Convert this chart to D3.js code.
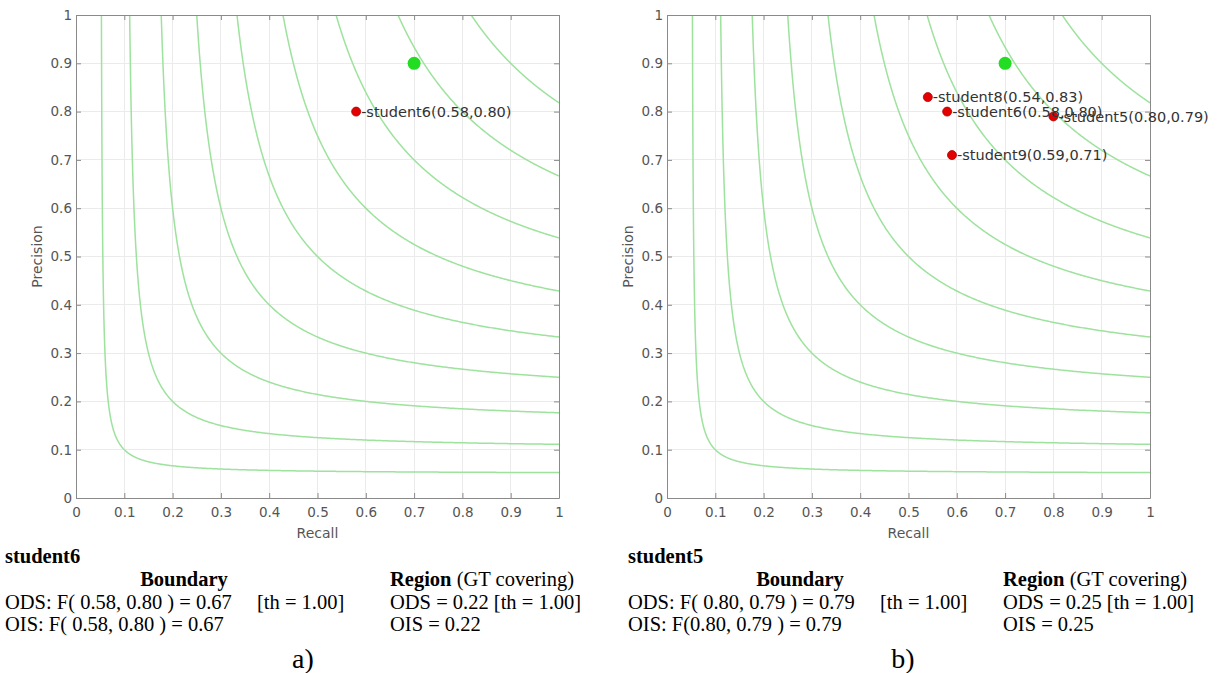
<!DOCTYPE html>
<html>
<head>
<meta charset="utf-8">
<script src="https://cdn.jsdelivr.net/npm/d3@7"></script>
<style>
  body { margin: 0; background: #fff; }
  svg { display: block; }
  .tick-label { font-family: "DejaVu Sans", sans-serif; font-size: 13.5px; fill: #555; }
  .axis-title { font-family: "DejaVu Sans", sans-serif; font-size: 14px; fill: #555; }
  .pt-label { font-family: "DejaVu Sans", sans-serif; font-size: 14.5px; fill: #333; }
  .caption { font-family: "Liberation Serif", "Times New Roman", serif; font-size: 20.5px; fill: #000; }
  .tag { font-family: "Liberation Serif", "Times New Roman", serif; font-size: 28px; fill: #000; }
</style>
</head>
<body>
<div id="chart"></div>
<script>
// iso-F levels drawn as background curves
var fLevels = [0.1, 0.2, 0.3, 0.4, 0.5, 0.6, 0.7, 0.8, 0.9];
var axisTicks = [0, 0.1, 0.2, 0.3, 0.4, 0.5, 0.6, 0.7, 0.8, 0.9, 1];

// green reference point
var targetRecall = 0.70;
var targetPrecision = 0.90;

// panel a)
var namesA = ["student6"];
var recallA = [0.58];
var precisionA = [0.80];

// panel b)
var namesB = ["student8", "student6", "student5", "student9"];
var recallB = [0.54, 0.58, 0.80, 0.59];
var precisionB = [0.83, 0.80, 0.79, 0.71];

// text under each panel
var captionA = {
  name: "student6",
  odsB: "ODS: F( 0.58, 0.80 ) = 0.67", th: "[th = 1.00]",
  oisB: "OIS: F( 0.58, 0.80 ) = 0.67",
  odsR: "ODS = 0.22 [th = 1.00]", oisR: "OIS = 0.22",
  tag: "a)"
};
var captionB = {
  name: "student5",
  odsB: "ODS: F( 0.80, 0.79 ) = 0.79", th: "[th = 1.00]",
  oisB: "OIS: F(0.80, 0.79 ) = 0.79",
  odsR: "ODS = 0.25 [th = 1.00]", oisR: "OIS = 0.25",
  tag: "b)"
};

var W = 1217, H = 673;
var plotSize = 483;
var top0 = 15;

var svg = d3.select("#chart").append("svg")
  .attr("width", W)
  .attr("height", H);

function drawPanel(left, names, recall, precision, cap, txt) {
  var x = d3.scaleLinear().domain([0, 1]).range([left, left + plotSize]);
  var y = d3.scaleLinear().domain([0, 1]).range([top0 + plotSize, top0]);
  var g = svg.append("g");

  var clipId = "clip" + left;
  g.append("clipPath").attr("id", clipId)
    .append("rect")
    .attr("x", x(0)).attr("y", y(1))
    .attr("width", plotSize).attr("height", plotSize);

  // grid
  g.selectAll(".vgrid").data(axisTicks).enter().append("line")
    .attr("x1", function(d) { return x(d); }).attr("x2", function(d) { return x(d); })
    .attr("y1", y(0)).attr("y2", y(1))
    .attr("stroke", "#ebebeb").attr("stroke-width", 1)
    .attr("shape-rendering", "crispEdges");
  g.selectAll(".hgrid").data(axisTicks).enter().append("line")
    .attr("y1", function(d) { return y(d); }).attr("y2", function(d) { return y(d); })
    .attr("x1", x(0)).attr("x2", x(1))
    .attr("stroke", "#ebebeb").attr("stroke-width", 1)
    .attr("shape-rendering", "crispEdges");

  // iso-F curves
  var line = d3.line()
    .x(function(d) { return x(d[0]); })
    .y(function(d) { return y(d[1]); });
  fLevels.forEach(function(f) {
    var r0 = f / (2 - f);
    var pts = d3.range(0, 401).map(function(i) {
      var r = r0 + (1 - r0) * Math.pow(i / 400, 2);
      return [r, f * r / (2 * r - f)];
    });
    g.append("path")
      .attr("d", line(pts))
      .attr("clip-path", "url(#" + clipId + ")")
      .attr("fill", "none")
      .attr("stroke", "#9de29d")
      .attr("stroke-width", 1.5);
  });

  // axes box with inward ticks (matlab style)
  var fmt = function(d) { return d3.format("~g")(d); };
  var axB = d3.axisBottom(x).tickValues(axisTicks).tickSizeInner(-5).tickSizeOuter(0)
    .tickPadding(9).tickFormat(fmt);
  var axL = d3.axisLeft(y).tickValues(axisTicks).tickSizeInner(-5).tickSizeOuter(0)
    .tickPadding(4).tickFormat(fmt);
  var axT = d3.axisTop(x).tickValues(axisTicks).tickSizeInner(-5).tickSizeOuter(0).tickFormat("");
  var axR = d3.axisRight(y).tickValues(axisTicks).tickSizeInner(-5).tickSizeOuter(0).tickFormat("");

  [[axB, "translate(0," + y(0) + ")"], [axL, "translate(" + x(0) + ",0)"],
   [axT, "translate(0," + y(1) + ")"], [axR, "translate(" + x(1) + ",0)"]].forEach(function(a) {
    var ag = g.append("g").attr("transform", a[1]).call(a[0]);
    ag.select(".domain").attr("stroke", "#8a8a8a");
    ag.selectAll(".tick line").attr("stroke", "#8a8a8a");
    ag.selectAll(".tick text").attr("class", "tick-label").attr("fill", null);
  });

  // axis titles
  g.append("text").attr("class", "axis-title")
    .attr("x", x(0.5)).attr("y", y(0) + 40)
    .attr("text-anchor", "middle").text("Recall");
  g.append("text").attr("class", "axis-title")
    .attr("transform", "translate(" + (x(0) - 34) + "," + y(0.5) + ") rotate(-90)")
    .attr("text-anchor", "middle").text("Precision");

  // target point
  g.append("circle")
    .attr("cx", x(targetRecall)).attr("cy", y(targetPrecision))
    .attr("r", 6.5).attr("fill", "#22dd22");

  // student points
  var idx = d3.range(names.length);
  g.selectAll(".pt").data(idx).enter().append("circle")
    .attr("cx", function(i) { return x(recall[i]); })
    .attr("cy", function(i) { return y(precision[i]); })
    .attr("r", 4.5)
    .attr("fill", "#e30000")
    .attr("stroke", "#b00000").attr("stroke-width", 0.8);
  g.selectAll(".lbl").data(idx).enter().append("text")
    .attr("class", "pt-label")
    .attr("x", function(i) { return x(recall[i]) + 5; })
    .attr("y", function(i) { return y(precision[i]); })
    .attr("dy", "0.35em")
    .text(function(i) {
      return "-" + names[i] + "(" + recall[i].toFixed(2) + "," + precision[i].toFixed(2) + ")";
    });

  // caption under the panel
  var c = svg.append("g").attr("class", "caption-g");
  c.append("text").attr("class", "caption").attr("font-weight", "bold")
    .attr("x", txt.nameX).attr("y", 563).text(cap.name);
  c.append("text").attr("class", "caption").attr("font-weight", "bold")
    .attr("x", txt.boundX).attr("y", 586).attr("text-anchor", "middle").text("Boundary");
  var reg = c.append("text").attr("class", "caption")
    .attr("x", txt.regionX).attr("y", 586);
  reg.append("tspan").attr("font-weight", "bold").text("Region");
  reg.append("tspan").text(" (GT covering)");
  c.append("text").attr("class", "caption").attr("x", txt.nameX).attr("y", 609).text(cap.odsB);
  c.append("text").attr("class", "caption").attr("x", txt.thX).attr("y", 609).text(cap.th);
  c.append("text").attr("class", "caption").attr("x", txt.nameX).attr("y", 631).text(cap.oisB);
  c.append("text").attr("class", "caption").attr("x", txt.regionX).attr("y", 609).text(cap.odsR);
  c.append("text").attr("class", "caption").attr("x", txt.regionX).attr("y", 631).text(cap.oisR);
  c.append("text").attr("class", "tag")
    .attr("x", txt.tagX).attr("y", 668).attr("text-anchor", "middle").text(cap.tag);
}

drawPanel(76, namesA, recallA, precisionA, captionA,
  { nameX: 5, boundX: 184, regionX: 390, thX: 257, tagX: 303 });
drawPanel(667, namesB, recallB, precisionB, captionB,
  { nameX: 628, boundX: 800, regionX: 1003, thX: 880, tagX: 903 });
</script>
</body>
</html>
